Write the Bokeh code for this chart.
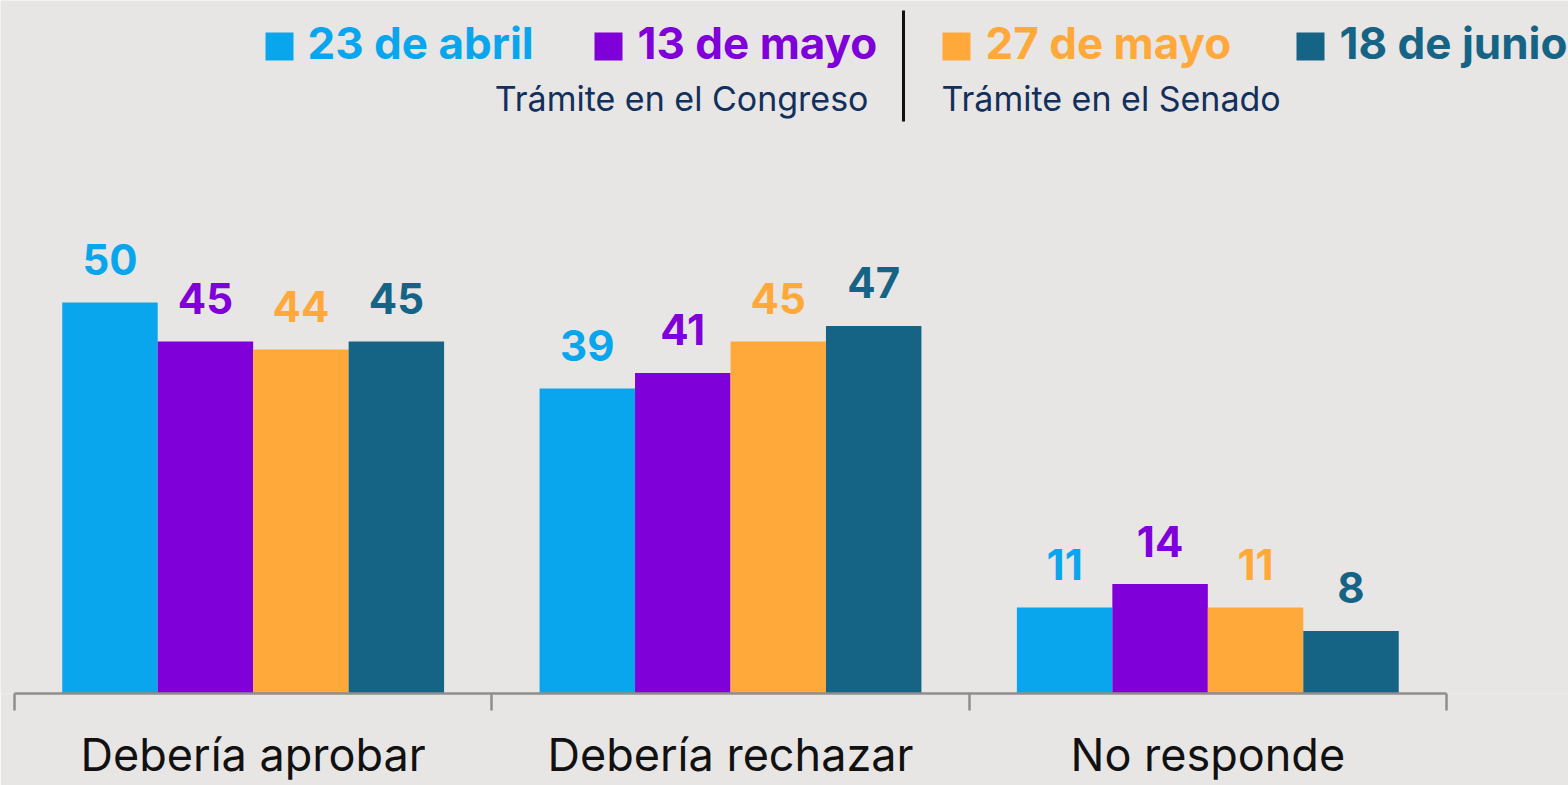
from bokeh.plotting import figure
from bokeh.models import ColumnDataSource, Range1d, LinearAxis, FixedTicker
from bokeh.transform import dodge
from bokeh.core.properties import value
from bokeh.embed import file_html
from bokeh.resources import INLINE

categories = ["Debería aprobar", "Debería rechazar", "No responde"]
series = ["23 de abril", "13 de mayo", "27 de mayo", "18 de junio"]
v_23_abril = [50, 39, 11]
v_13_mayo = [45, 41, 14]
v_27_mayo = [44, 45, 11]
v_18_junio = [45, 47, 8]
values = [v_23_abril, v_13_mayo, v_27_mayo, v_18_junio]
colors = ["#0aa6ed", "#7f00d9", "#ffa93a", "#166485"]
groups = ["Trámite en el Congreso", "Trámite en el Senado"]

BG = "#e8e6e4"
NAVY = "#13305c"
FONT = "Inter"

W, H = 1568, 785
BASE = 693
PX_PER_X = 477.33
PX_PER_Y = 7.82
# page -> data helpers for annotation placement
def xd(px):
    return (px - 14) / PX_PER_X
def yd(py):
    return (BASE - py) / PX_PER_Y

p = figure(width=W, height=H, output_backend="svg", toolbar_location=None,
           x_range=Range1d(xd(0), xd(W)), y_range=Range1d(0, yd(0)),
           min_border_left=0, min_border_right=0, min_border_top=0,
           min_border_bottom=H - BASE, x_axis_type=None, y_axis_type=None)
p.background_fill_color = BG
p.border_fill_color = BG
p.outline_line_color = None
p.xgrid.visible = False
p.ygrid.visible = False

centers = [i + 0.5 for i in range(len(categories))]
offsets = [-0.3, -0.1, 0.1, 0.3]
for j, s in enumerate(series):
    src = ColumnDataSource(dict(x=centers, v=values[j], lab=[str(v) for v in values[j]]))
    p.vbar(x=dodge("x", offsets[j]), top="v", width=0.2, bottom=0, source=src,
           fill_color=colors[j], line_color=None)
    p.text(x=dodge("x", offsets[j]), y="v", text="lab", source=src,
           text_color=colors[j], text_font=value(FONT), text_font_style="bold",
           text_font_size="42px", text_align="center", text_baseline="alphabetic",
           y_offset=-43)

ax = LinearAxis(ticker=FixedTicker(ticks=centers, minor_ticks=list(range(len(categories) + 1))))
ax.bounds = (0, len(categories))
ax.major_label_overrides = {c: cat for c, cat in zip(centers, categories)}
ax.axis_line_color = "#8e8e8e"
ax.axis_line_width = 2.5
ax.major_tick_line_color = None
ax.major_tick_out = 0
ax.major_tick_in = 0
ax.minor_tick_line_color = "#8e8e8e"
ax.minor_tick_line_width = 2.5
ax.minor_tick_out = 17
ax.minor_tick_in = 0
ax.major_label_text_font = FONT
ax.major_label_text_font_size = "45px"
ax.major_label_text_color = "#111111"
ax.major_label_standoff = 16
p.add_layout(ax, "below")

# legend
sq_x = [279, 608, 956, 1310]
tx_x = [307, 637, 985, 1339]
p.scatter(x=[xd(v) for v in sq_x], y=[yd(46)] * 4, marker="square", size=28,
          fill_color=colors, line_color=None)
for j, s in enumerate(series):
    p.text(x=[xd(tx_x[j])], y=[yd(42)], text=[s], text_color=colors[j],
           text_font=value(FONT), text_font_style="bold", text_font_size="44px",
           text_align="left", text_baseline="alphabetic")
p.text(x=[xd(868)], y=[yd(98)], text=[groups[0]], text_color=NAVY,
       text_font=value(FONT), text_font_size="34px", text_align="right",
       text_baseline="alphabetic")
p.text(x=[xd(941)], y=[yd(98)], text=[groups[1]], text_color=NAVY,
       text_font=value(FONT), text_font_size="34px", text_align="left",
       text_baseline="alphabetic")
p.segment(x0=[xd(903)], y0=[yd(10)], x1=[xd(903)], y1=[yd(121)],
          line_color="#111111", line_width=3)

open("out.html", "w").write(file_html(p, INLINE))
